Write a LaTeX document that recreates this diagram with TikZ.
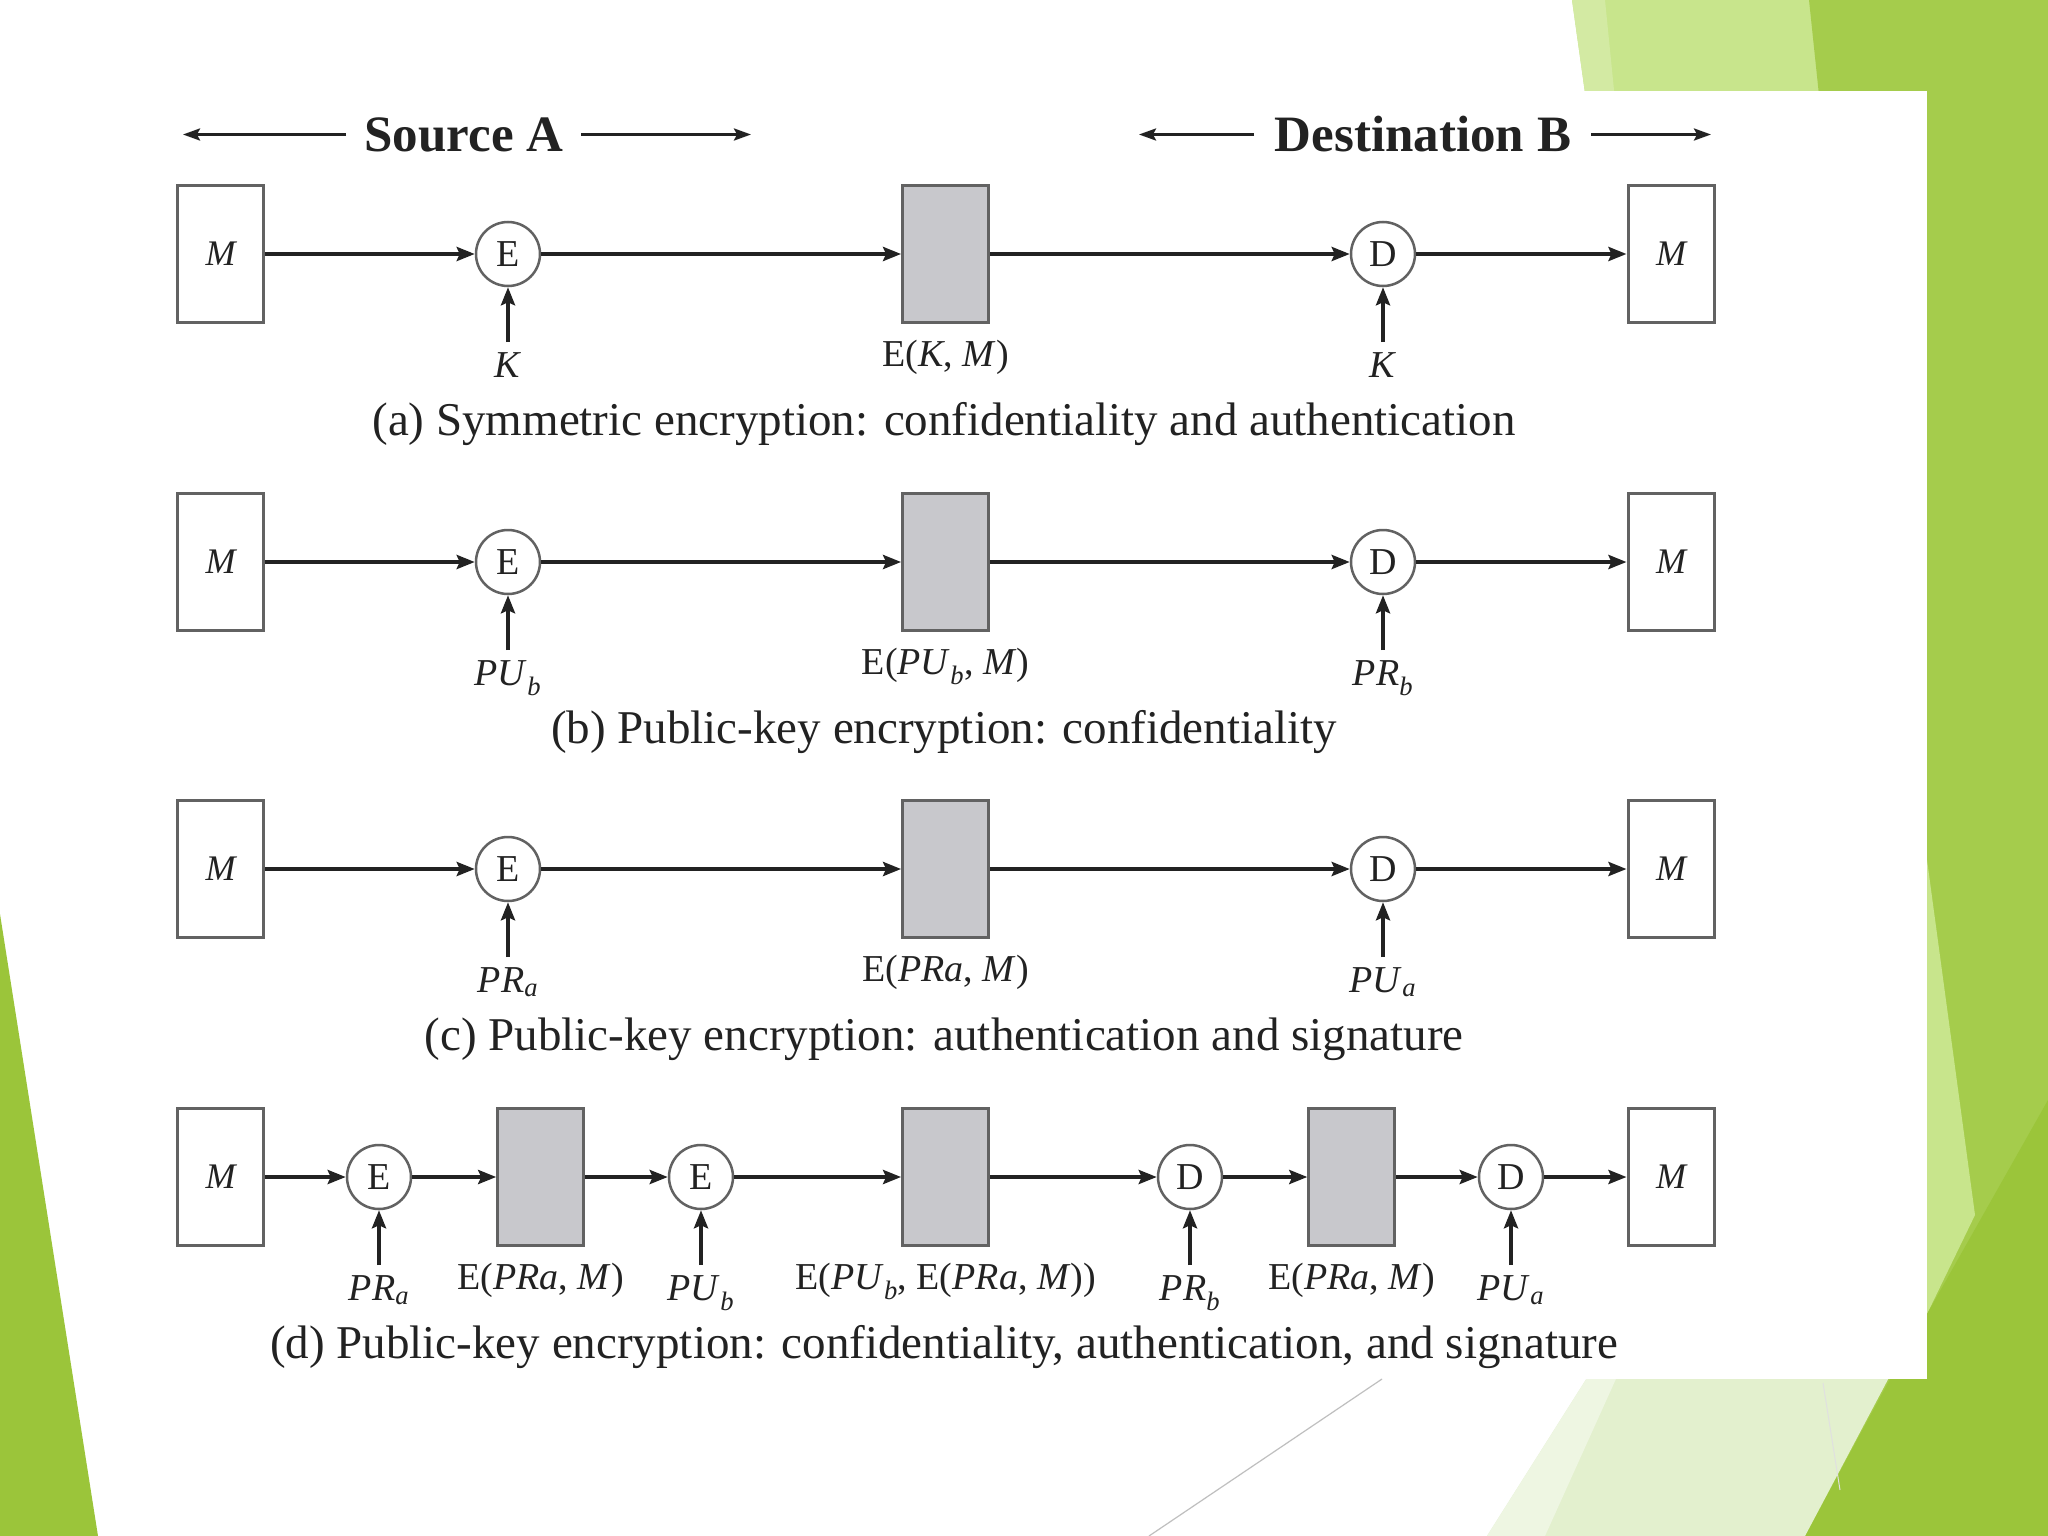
\documentclass[tikz,border=0pt]{standalone}
\usepackage{fontspec}
\setmainfont{Liberation Serif}
\usetikzlibrary{arrows.meta}
\definecolor{dgreen}{HTML}{9BC53A}
\definecolor{mgreen}{HTML}{A5CC4C}
\definecolor{lgreen}{HTML}{C8E58C}
\definecolor{pgreen}{HTML}{E3F0CE}
\definecolor{vpgreen}{HTML}{EEF6E2}
\definecolor{ink}{HTML}{222222}
\definecolor{boxgray}{HTML}{C8C8CC}
\definecolor{edgegray}{HTML}{626262}
\newcommand\ksub[1]{\textsubscript{\textit{#1}}}
\tikzset{
  msgbox/.style={draw=edgegray, line width=3pt, fill=white, minimum width=86pt,
    minimum height=137pt, inner sep=0pt, font=\fontsize{36}{40}\selectfont\itshape, text=ink},
  ctbox/.style={msgbox, fill=boxgray},
  opnode/.style={circle, draw=edgegray, line width=2.5pt, fill=white, minimum size=64pt,
    inner sep=0pt, font=\fontsize{38}{40}\selectfont, text=ink},
  flow/.style={-{Stealth[length=18pt,width=14pt,inset=3pt]}, line width=3.8pt, draw=ink},
  keyarr/.style={-{Stealth[length=18pt,width=14pt,inset=3pt]}, line width=4.6pt, draw=ink},
  keylab/.style={anchor=north, inner xsep=2pt, inner ysep=7pt, text height=28pt,
    text depth=10pt, font=\fontsize{38}{40}\selectfont, text=ink},
  ctlab/.style={anchor=north, inner xsep=2pt, inner ysep=2pt, text height=28pt,
    text depth=10pt, font=\fontsize{38}{40}\selectfont, text=ink},
  capt/.style={anchor=base, inner sep=0pt, font=\fontsize{47}{50}\selectfont, text=ink},
  headtxt/.style={inner sep=0pt, font=\fontsize{51}{54}\selectfont\bfseries, text=ink},
  headarr/.style={-{Stealth[length=17pt,width=12pt,inset=3pt]}, line width=2.8pt, draw=ink},
}
\begin{document}
\begin{tikzpicture}[x=1pt,y=-1pt]
\useasboundingbox (0,0) rectangle (2048,1536);
% ---------- slide background ----------
\fill[white] (0,0) rectangle (2048,1536);
\fill[dgreen] (0,914) -- (98,1536) -- (0,1536) -- cycle;
\fill[lgreen] (1572,0) -- (1812,0) -- (1830,200) -- (1600,200) -- cycle;
\fill[lgreen!80!white] (1572,0) -- (1605,0) -- (1625,200) -- (1600,200) -- cycle;
\fill[mgreen] (1809,0) -- (2048,0) -- (2048,1536) -- (1805,1536) -- (1900,1300) -- (1830,200) -- cycle;
\fill[lgreen] (1927,860) -- (1975,1215) -- (1927,1314) -- cycle;
\fill[dgreen] (2048,1100) -- (2048,1536) -- (1805,1536) -- (1895,1370) -- (1927,1314) -- cycle;
\fill[pgreen] (1487,1536) -- (1592,1370) -- (1893,1370) -- (1805,1536) -- cycle;
\fill[vpgreen] (1487,1536) -- (1592,1370) -- (1620,1370) -- (1545,1536) -- cycle;
\draw[black!12, line width=1pt] (1823,1383) -- (1840,1490);
% ---------- picture panel ----------
\fill[white] (100,91) rectangle (1927,1379);
\draw[black!25, line width=1.2pt] (1382,1379) -- (1149,1536);
% ---------- header ----------
\node[headtxt] (srcA) at (464,134.5) {Source A};
\node[headtxt] (dstB) at (1423,134.5) {Destination B};
\coordinate (srcL) at (183,134.5);
\coordinate (srcLt) at (346,134.5);
\coordinate (srcRt) at (581,134.5);
\coordinate (srcR) at (751,134.5);
\coordinate (dstL) at (1139,134.5);
\coordinate (dstLt) at (1254,134.5);
\coordinate (dstRt) at (1591,134.5);
\coordinate (dstR) at (1711,134.5);
\draw[headarr] (srcLt) -- (srcL);
\draw[headarr] (srcRt) -- (srcR);
\draw[headarr] (dstLt) -- (dstL);
\draw[headarr] (dstRt) -- (dstR);
% ---------- row (a) ----------
\node[msgbox] (MAa) at (220.7,254) {M};
\node[opnode] (Ea) at (508,254) {E};
\node[ctbox] (Ca) at (945.6,254) {};
\node[opnode] (Da) at (1383,254) {D};
\node[msgbox] (MBa) at (1671,254) {M};
\node[keylab] (KEa) at (508,342) {\textit{K}};
\node[keylab] (KDa) at (1383,342) {\textit{K}};
\node[ctlab] (La) at (945.6,336) {E(\textit{K}, \textit{M})};
\node[capt] (capa) at (944,435) {(a) Symmetric encryption: confidentiality and authentication};
\draw[flow] (MAa) -- (Ea);
\draw[flow] (Ea) -- (Ca);
\draw[flow] (Ca) -- (Da);
\draw[flow] (Da) -- (MBa);
\draw[keyarr] (KEa) -- (Ea);
\draw[keyarr] (KDa) -- (Da);
% ---------- row (b) ----------
\node[msgbox] (MAb) at (220.7,562) {M};
\node[opnode] (Eb) at (508,562) {E};
\node[ctbox] (Cb) at (945.6,562) {};
\node[opnode] (Db) at (1383,562) {D};
\node[msgbox] (MBb) at (1671,562) {M};
\node[keylab] (KEb) at (508,650) {\textit{PU}\ksub{b}};
\node[keylab] (KDb) at (1383,650) {\textit{PR}\ksub{b}};
\node[ctlab] (Lb) at (945.6,644) {E(\textit{PU}\ksub{b}, \textit{M})};
\node[capt] (capb) at (944,743) {(b) Public-key encryption: confidentiality};
\draw[flow] (MAb) -- (Eb);
\draw[flow] (Eb) -- (Cb);
\draw[flow] (Cb) -- (Db);
\draw[flow] (Db) -- (MBb);
\draw[keyarr] (KEb) -- (Eb);
\draw[keyarr] (KDb) -- (Db);
% ---------- row (c) ----------
\node[msgbox] (MAc) at (220.7,869) {M};
\node[opnode] (Ec) at (508,869) {E};
\node[ctbox] (Cc) at (945.6,869) {};
\node[opnode] (Dc) at (1383,869) {D};
\node[msgbox] (MBc) at (1671,869) {M};
\node[keylab] (KEc) at (508,957) {\textit{PR}\ksub{a}};
\node[keylab] (KDc) at (1383,957) {\textit{PU}\ksub{a}};
\node[ctlab] (Lc) at (945.6,951) {E(\textit{PRa}, \textit{M})};
\node[capt] (capc) at (944,1050) {(c) Public-key encryption: authentication and signature};
\draw[flow] (MAc) -- (Ec);
\draw[flow] (Ec) -- (Cc);
\draw[flow] (Cc) -- (Dc);
\draw[flow] (Dc) -- (MBc);
\draw[keyarr] (KEc) -- (Ec);
\draw[keyarr] (KDc) -- (Dc);
% ---------- row (d) ----------
\node[msgbox] (MAd) at (220.7,1177) {M};
\node[opnode] (E1d) at (379,1177) {E};
\node[ctbox] (C1d) at (540.7,1177) {};
\node[opnode] (E2d) at (701,1177) {E};
\node[ctbox] (C2d) at (945.6,1177) {};
\node[opnode] (D1d) at (1190,1177) {D};
\node[ctbox] (C3d) at (1351.8,1177) {};
\node[opnode] (D2d) at (1511,1177) {D};
\node[msgbox] (MBd) at (1671,1177) {M};
\node[keylab] (K1d) at (379,1265) {\textit{PR}\ksub{a}};
\node[keylab] (K2d) at (701,1265) {\textit{PU}\ksub{b}};
\node[keylab] (K3d) at (1190,1265) {\textit{PR}\ksub{b}};
\node[keylab] (K4d) at (1511,1265) {\textit{PU}\ksub{a}};
\node[ctlab] (L1d) at (540.7,1259) {E(\textit{PRa}, \textit{M})};
\node[ctlab] (L2d) at (945.6,1259) {E(\textit{PU}\ksub{b}, E(\textit{PRa}, \textit{M}))};
\node[ctlab] (L3d) at (1351.8,1259) {E(\textit{PRa}, \textit{M})};
\node[capt] (capd) at (944,1358) {(d) Public-key encryption: confidentiality, authentication, and signature};
\draw[flow] (MAd) -- (E1d);
\draw[flow] (E1d) -- (C1d);
\draw[flow] (C1d) -- (E2d);
\draw[flow] (E2d) -- (C2d);
\draw[flow] (C2d) -- (D1d);
\draw[flow] (D1d) -- (C3d);
\draw[flow] (C3d) -- (D2d);
\draw[flow] (D2d) -- (MBd);
\draw[keyarr] (K1d) -- (E1d);
\draw[keyarr] (K2d) -- (E2d);
\draw[keyarr] (K3d) -- (D1d);
\draw[keyarr] (K4d) -- (D2d);
\end{tikzpicture}
\end{document}
